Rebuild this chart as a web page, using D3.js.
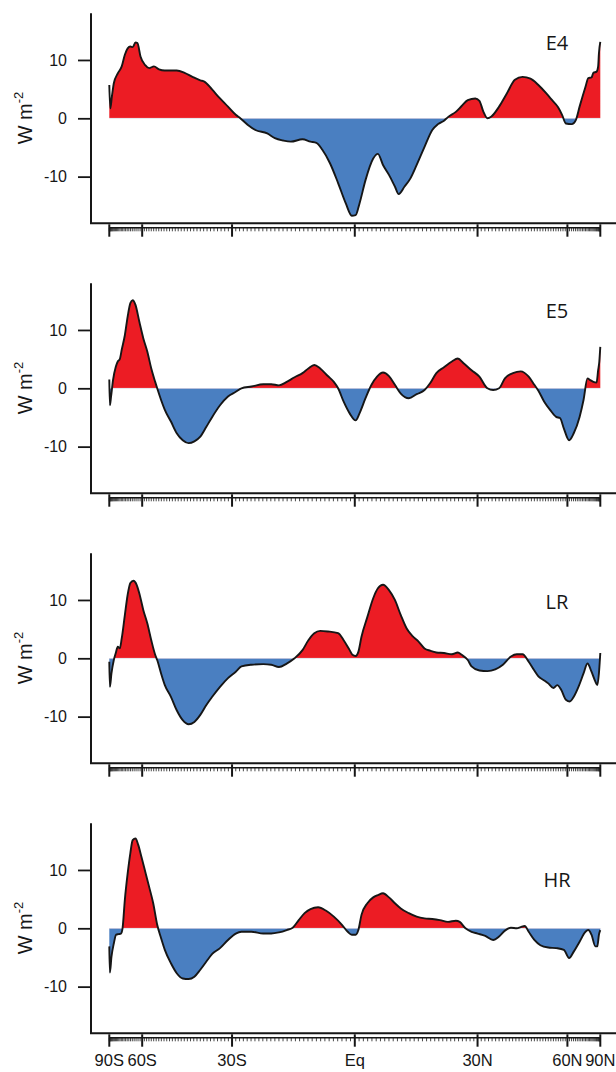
<!DOCTYPE html>
<html><head><meta charset="utf-8">
<script src="https://cdn.jsdelivr.net/npm/d3@7"></script>
<style>body{margin:0;background:#fff}svg{display:block}</style>
</head><body>
<svg id="c" width="616" height="1072"></svg>
<script>
// ---------- data ----------
const panelNames = ["E4", "E5", "LR", "HR"];

const latE4 = [-90,-84.9,-81.7,-79.0,-74.9,-71.7,-69.5,-67.7,-66.1,-64.8,-63.3,-62.3,-60.8,-58.6,-56.9,-54.9,-52.9,-50.7,-46.5,-43.9,-41.4,-39.0,-37.8,-35.5,-33.3,-31.1,-29.0,-27.8,-25.9,-23.9,-20.9,-19.0,-17.0,-15.1,-12.3,-10.4,-9.0,-7.6,-5.8,-3.9,-2.1,-0.7,0.2,1.1,2.5,4.3,5.4,6.6,8.0,9.4,10.3,11.7,13.1,14.6,16.5,18.4,19.8,21.3,22.3,24.3,25.8,27.4,29.4,30.5,31.6,32.7,33.8,36.0,38.3,40.7,43.1,45.7,48.4,51.2,53.5,55.9,57.6,59.3,62.1,64.2,66.3,70.0,72.0,74.6,76.4,80.0,82.4,83.9,90];
const valE4 = [5.7,1.7,3.7,6.0,7.7,8.9,10.9,12.0,12.3,12.2,13.0,12.9,10.6,9.1,8.6,8.9,8.4,8.2,8.2,7.8,7.1,6.5,6.3,4.9,3.4,2.0,0.6,0,-1.1,-2.0,-2.6,-3.4,-3.8,-4.0,-3.6,-4.0,-4.2,-5.4,-7.7,-11.1,-14.6,-16.7,-16.6,-14.6,-10.6,-6.9,-6.1,-8.0,-9.7,-11.7,-13.0,-11.7,-10.3,-8.0,-4.9,-2.0,-1.0,-0.4,0.2,1.1,2.1,3.1,3.4,3.0,1.1,0,0.3,2.0,4.3,6.6,7.1,6.8,5.7,4.3,3.1,1.9,0.6,-0.9,-1.0,-0.3,2.0,5.4,6.9,7.0,7.8,8.0,8.9,11.1,13.1];

const latE5 = [-90,-86.0,-83.1,-80.0,-76.8,-74.9,-73.2,-71.7,-69.5,-67.7,-66.1,-64.8,-63.3,-61.35,-59.5,-57.7,-56.0,-54.4,-53.6,-52.1,-50.7,-48.5,-46.5,-44.5,-42.6,-40.8,-39.0,-37.2,-35.5,-33.3,-31.1,-29.0,-27.5,-24.9,-21.9,-19.9,-18.0,-16.1,-14.2,-12.3,-10.9,-9.5,-8.1,-6.3,-4.9,-3.9,-2.6,-1.2,0.2,1.1,2.5,3.9,5.2,6.6,8.0,9.4,10.8,12.7,14.6,16.5,17.9,19.4,21.3,23.3,24.8,26.3,28.4,30.5,32.7,34.3,36.0,37.7,40.1,42.5,45.1,47.0,48.4,50.5,52.7,55.1,56.7,58.4,60.8,63.1,66.3,68.7,71.4,73.6,76.4,80.0,82.4,84.9,90];
const valE5 = [1.5,-2.9,-1.4,1.4,3.7,4.6,5.0,6.6,9.1,12.3,14.6,15.1,14.3,11.4,8.6,6.3,3.4,1.1,0,-2.0,-3.7,-5.7,-7.7,-8.9,-9.4,-9.1,-8.3,-6.6,-4.9,-2.9,-1.4,-0.6,0,0.3,0.7,0.7,0.5,1.1,1.9,2.6,3.4,4.0,3.4,2.1,1.1,0,-2.3,-4.3,-5.5,-4.3,-1.7,0.6,2.0,2.7,2.1,0.6,-0.9,-1.7,-1.0,-0.3,0.9,2.6,3.6,4.6,5.1,4.3,3.1,2.0,0,-0.3,0,1.7,2.6,2.9,2.0,0.6,-0.4,-2.3,-3.7,-4.9,-5.1,-6.9,-8.9,-7.7,-4.9,-2.0,1.7,1.4,1.1,1.0,3.1,4.6,7.1];

const latLR = [-90,-86.0,-82.4,-79.0,-76.8,-74.9,-73.2,-71.7,-69.5,-67.7,-66.1,-64.35,-62.7,-61.35,-59.5,-57.7,-56.0,-54.4,-53.6,-52.1,-50.7,-48.5,-46.5,-44.5,-42.6,-40.8,-39.0,-37.2,-35.5,-33.3,-31.1,-29.0,-27.5,-24.9,-21.9,-19.9,-18.0,-16.1,-14.2,-12.3,-10.9,-9.5,-8.1,-6.3,-3.9,-2.6,-1.2,-0.55,0.2,0.83,1.56,2.94,4.3,5.4,6.6,8.0,9.4,10.8,12.2,13.6,15.0,16.5,17.9,19.4,21.3,23.3,24.8,25.8,27.4,28.4,30.5,32.7,34.9,37.1,39.5,41.3,43.1,45.1,47.0,48.4,50.5,52.0,54.0,55.55,57.2,59.3,61.15,63.1,65.65,68.7,71.4,74.6,78.5,81.1,83.9,90];
const valLR = [-0.6,-4.9,-2.6,-0.3,0.9,2.0,1.7,3.4,7.4,10.9,12.9,13.3,12.6,11.1,8.3,6.0,3.1,0.6,-0.3,-2.6,-4.6,-6.6,-8.9,-10.6,-11.3,-10.9,-9.7,-8.0,-6.6,-4.9,-3.4,-2.3,-1.4,-1.1,-1.0,-1.1,-1.5,-0.9,0,1.4,3.1,4.3,4.7,4.6,4.3,3.1,1.4,0.6,0.4,1.1,3.7,7.1,10.3,12.0,12.6,11.7,10.0,7.4,5.1,3.8,2.9,1.7,1.3,1.0,0.9,0.7,1.0,0.6,-0.3,-1.4,-2.1,-2.2,-1.9,-1.1,0.3,0.7,0.7,-0.6,-2.1,-3.1,-3.8,-4.3,-5.1,-4.6,-5.4,-7.1,-7.4,-6.6,-4.9,-2.6,-0.9,-2.3,-4.0,-4.6,-2.6,0.9];

const latHR = [-90,-86.0,-82.4,-79.0,-76.4,-74.2,-72.3,-71.1,-69.5,-67.7,-66.1,-64.8,-63.3,-61.9,-60.4,-58.6,-56.9,-55.2,-53.6,-52.1,-50.7,-48.5,-46.5,-44.5,-42.6,-40.8,-39.0,-37.2,-35.5,-33.3,-31.1,-29.0,-27.5,-24.9,-21.9,-19.9,-18.0,-16.1,-14.65,-13.2,-11.8,-10.4,-8.6,-6.7,-4.9,-3.0,-1.65,-0.7,0.2,0.83,1.56,2.94,4.3,5.4,6.6,8.0,9.4,10.8,12.7,14.6,16.5,18.4,20.3,22.3,24.3,25.3,26.8,28.4,30.0,32.1,34.3,36.0,37.7,39.5,41.3,42.5,43.8,45.1,47.0,49.1,52.0,55.1,58.4,60.8,63.1,66.3,70.0,72.0,74.6,78.5,81.1,83.9,90];
const valHR = [-3.1,-7.6,-4.9,-2.6,-1.1,-1.0,-0.9,0,4.9,9.4,12.9,15.1,15.4,14.3,12.3,9.7,7.1,4.3,0.6,-1.7,-3.7,-6.0,-7.7,-8.6,-8.7,-8.3,-7.1,-5.7,-4.4,-3.4,-2.0,-0.9,-0.6,-0.6,-0.9,-0.9,-0.7,-0.3,0.1,1.4,2.6,3.3,3.6,3.0,2.0,0.6,-0.6,-1.1,-1.1,-0.3,2.3,4.3,5.3,5.7,6.0,5.3,4.3,3.4,2.6,2.0,1.7,1.6,1.4,1.1,1.3,1.1,0,-0.6,-0.9,-1.3,-2.0,-1.4,-0.4,0.1,0,0.2,0.4,-0.6,-2.0,-2.9,-3.3,-3.4,-3.7,-5.1,-4.0,-2.3,-0.6,-0.3,-1.1,-3.1,-3.1,-1.1,-0.3];

const yTickValues = [-10, 0, 10];
const xTickLats = [-90, -60, -30, 0, 30, 60, 90];
const xTickLabels = ["90S", "60S", "30S", "Eq", "30N", "60N", "90N"];

// ---------- drawing ----------
const panels = [
  {name: panelNames[0], lat: latE4, val: valE4},
  {name: panelNames[1], lat: latE5, val: valE5},
  {name: panelNames[2], lat: latLR, val: valLR},
  {name: panelNames[3], lat: latHR, val: valHR}
];
const W = 616, H = 1072;
const svg = d3.select("#c");
const defs = svg.append("defs");
const RED = "#ec1c24", BLUE = "#4a7fc1", INK = "#161616";
const SANS = "Liberation Sans, Arial, Helvetica, sans-serif";

// sine-of-latitude x axis
const xs = d3.scaleLinear().domain([-1, 1]).range([109.3, 600.3]);
const xl = lat => xs(Math.sin(lat * Math.PI / 180));

const panelTop = [0, 270, 540, 810];
const labelY = [42.7, 40, 61.7, 69];
const axisX = 91;

panels.forEach((p, i) => {
  const t = panelTop[i];
  const y = d3.scaleLinear().domain([-18, 18]).range([t + 223.3, t + 13.3]);
  const data = p.lat.map((l, j) => ({lat: l, v: p.val[j]}));
  const y0 = y(0);

  defs.append("clipPath").attr("id", "ab" + i)
    .append("rect").attr("x", 0).attr("y", t).attr("width", W).attr("height", y0 - t);
  defs.append("clipPath").attr("id", "be" + i)
    .append("rect").attr("x", 0).attr("y", y0).attr("width", W).attr("height", t + 270 - y0);

  const g = svg.append("g");
  const area = d3.area().x(d => xl(d.lat)).y0(y0).y1(d => y(d.v)).curve(d3.curveMonotoneX);
  const line = d3.line().x(d => xl(d.lat)).y(d => y(d.v)).curve(d3.curveMonotoneX);

  g.append("path").datum(data).attr("d", area).attr("fill", RED).attr("clip-path", `url(#ab${i})`);
  g.append("path").datum(data).attr("d", area).attr("fill", BLUE).attr("clip-path", `url(#be${i})`);
  g.append("line").attr("x1", xl(-90)).attr("x2", xl(90)).attr("y1", y0).attr("y2", y0)
    .attr("stroke", "#fff").attr("stroke-opacity", 0.5).attr("stroke-width", 0.8);
  g.append("path").datum(data).attr("d", line).attr("fill", "none")
    .attr("stroke", INK).attr("stroke-width", 1.9).attr("stroke-linejoin", "round");

  // y axis
  const ya = g.append("g").attr("transform", `translate(${axisX},0)`)
    .call(d3.axisLeft(y).tickValues(yTickValues).tickSize(13).tickPadding(11).tickFormat(d => String(d)));
  ya.select(".domain").remove();
  ya.selectAll(".tick line").attr("stroke", INK).attr("stroke-width", 1.8);
  ya.selectAll(".tick text").attr("font-family", SANS)
    .attr("font-size", 16).attr("fill", INK);

  // frame (left + bottom)
  g.append("path")
    .attr("d", `M${axisX},${y(18)}V${y(-18)}H${W}`)
    .attr("fill", "none").attr("stroke", INK).attr("stroke-width", 2);

  // latitude axis
  const by = t + 227.7;
  const la = g.append("g");
  const minor = d3.range(-89, 90).filter(d => d % 30 !== 0);
  la.selectAll("line.mn").data(minor).join("line")
    .attr("x1", d => xl(d)).attr("x2", d => xl(d))
    .attr("y1", by).attr("y2", by + 3.6)
    .attr("stroke", "#333").attr("stroke-width", 0.9);
  la.append("line").attr("x1", xl(-90)).attr("x2", xl(90)).attr("y1", by).attr("y2", by)
    .attr("stroke", INK).attr("stroke-width", 1.5);
  la.selectAll("line.mj").data(xTickLats).join("line")
    .attr("x1", d => xl(d)).attr("x2", d => xl(d))
    .attr("y1", by - 3.4).attr("y2", by + 9)
    .attr("stroke", INK).attr("stroke-width", 2);

  if (i === panels.length - 1) {
    la.selectAll("text").data(xTickLats).join("text")
      .attr("x", d => xl(d)).attr("y", 1066)
      .attr("text-anchor", "middle")
      .attr("font-family", SANS)
      .attr("font-size", 16.5).attr("fill", INK)
      .text((d, k) => xTickLabels[k]);
  }

  // y label
  const yl = g.append("text")
    .attr("transform", `translate(31.5,${t + 118}) rotate(-90)`)
    .attr("text-anchor", "middle")
    .attr("font-family", SANS)
    .attr("font-size", 20).attr("fill", INK);
  yl.append("tspan").text("W m");
  yl.append("tspan").attr("dy", -9).attr("font-size", 13).text("-2");

  // panel label
  g.append("text").attr("x", 557).attr("y", t + labelY[i])
    .attr("text-anchor", "middle").attr("dominant-baseline", "central")
    .attr("font-family", "Open Sans, Noto Sans, sans-serif")
    .attr("font-size", 20).attr("fill", INK)
    .text(p.name);
});
</script>
</body></html>
